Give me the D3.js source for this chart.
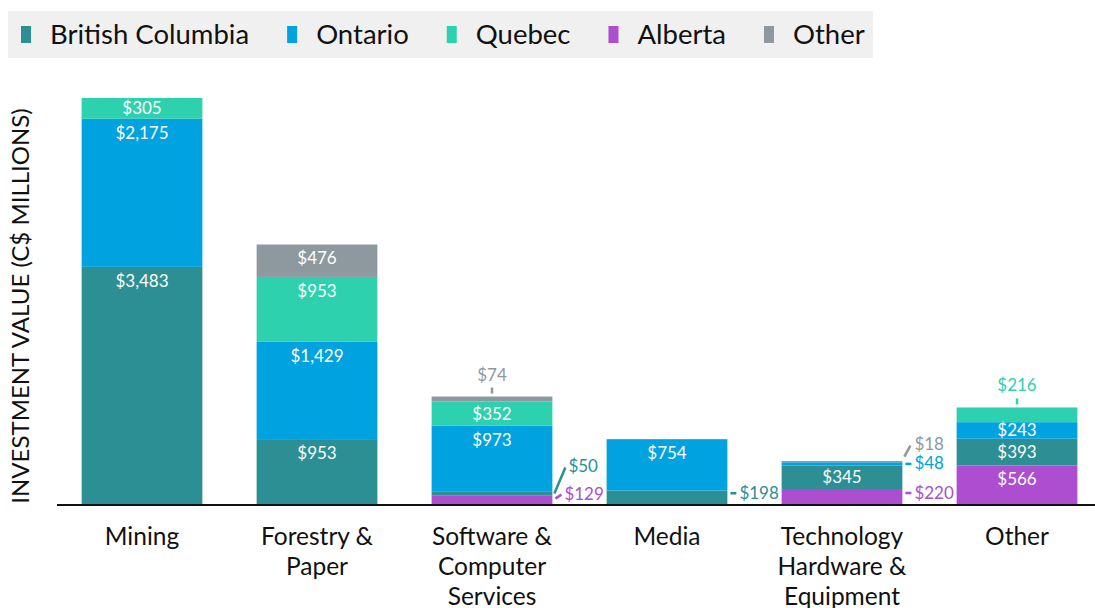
<!DOCTYPE html>
<html>
<head>
<meta charset="utf-8">
<script src="https://cdn.jsdelivr.net/npm/d3@7"></script>
<style>
  body { margin: 0; background: #fff; }
  text { font-family: Lato, "Open Sans", sans-serif; }
</style>
</head>
<body>
<div id="container"></div>
<script>
// chart data
const categories = ["Mining", "Forestry & Paper", "Software & Computer Services", "Media", "Technology Hardware & Equipment", "Other"];
const categoryLines = [["Mining"], ["Forestry &", "Paper"], ["Software &", "Computer", "Services"], ["Media"], ["Technology", "Hardware &", "Equipment"], ["Other"]];

const alberta = [0, 0, 129, 0, 220, 566];
const britishColumbia = [3483, 953, 50, 198, 345, 393];
const ontario = [2175, 1429, 973, 754, 48, 243];
const quebec = [305, 953, 352, 0, 0, 216];
const otherProv = [0, 476, 74, 0, 18, 0];

const legendOrder = ["British Columbia", "Ontario", "Quebec", "Alberta", "Other"];
const stackOrder = ["Alberta", "British Columbia", "Ontario", "Quebec", "Other"];

const colors = {
  "British Columbia": "#2b8f94",
  "Ontario": "#00a3e0",
  "Quebec": "#2dd1ae",
  "Alberta": "#ac4ecf",
  "Other": "#8d999e"
};

// small segments labelled outside the bar
// kind: "above" = over the bar top, "right" = beside the bar
const callouts = [
  {cat: 2, key: "Other", kind: "above"},
  {cat: 5, key: "Quebec", kind: "above"},
  {cat: 2, key: "British Columbia", kind: "right", labelDy: -27, lx1: 2, ly1: 0, lx2: 13, ly2: -26},
  {cat: 2, key: "Alberta", kind: "right", labelDy: -6, lx1: 3, ly1: -1, lx2: 9, ly2: -5},
  {cat: 3, key: "British Columbia", kind: "right", labelDy: -4, lx1: 3, ly1: -4, lx2: 9, ly2: -4},
  {cat: 4, key: "Alberta", kind: "right", labelDy: -3.5, lx1: 3, ly1: -3.5, lx2: 9, ly2: -3.5},
  {cat: 4, key: "Ontario", kind: "right", labelDy: -1, lx1: 3, ly1: 0, lx2: 9, ly2: 0},
  {cat: 4, key: "Other", kind: "right", labelDy: -18, lx1: 2, ly1: -5, lx2: 8, ly2: -16}
];

const width = 1095, height = 608;

const table = categories.map((c, i) => ({
  category: c,
  "Alberta": alberta[i],
  "British Columbia": britishColumbia[i],
  "Ontario": ontario[i],
  "Quebec": quebec[i],
  "Other": otherProv[i]
}));

const svg = d3.select("#container")
  .append("svg")
    .attr("width", width)
    .attr("height", height);

const x = d3.scaleBand()
  .domain(categories)
  .range([54.5, 1104.5])
  .paddingInner(0.31)
  .paddingOuter(0.155);

const y = d3.scaleLinear()
  .domain([0, 5963])
  .range([504, 98]);

const series = d3.stack().keys(stackOrder)(table);
const fmt = d3.format("$,");

// bars
const layers = svg.selectAll(".layer").data(series).enter()
  .append("g")
    .attr("class", "layer")
    .attr("fill", d => colors[d.key]);

layers.selectAll("rect").data(d => d.filter(s => s[1] > s[0])).enter()
  .append("rect")
    .attr("x", d => x(d.data.category))
    .attr("width", x.bandwidth())
    .attr("y", d => y(d[1]))
    .attr("height", d => y(d[0]) - y(d[1]));

// labels inside bars
function isCallout(cat, key) {
  return callouts.some(c => c.cat === cat && c.key === key);
}
series.forEach(s => {
  s.forEach((d, i) => {
    const v = d[1] - d[0];
    if (v <= 0 || isCallout(i, s.key)) return;
    const top = y(d[1]);
    const h = y(d[0]) - top;
    svg.append("text")
      .attr("x", x(d.data.category) + x.bandwidth() / 2)
      .attr("y", top + Math.min(h / 2, 14))
      .attr("dy", "0.35em")
      .attr("text-anchor", "middle")
      .attr("fill", "#fff")
      .attr("font-size", 17)
      .text(fmt(v));
  });
});

// callout labels
callouts.forEach(c => {
  const s = series.find(s => s.key === c.key);
  const d = s[c.cat];
  const v = d[1] - d[0];
  const col = colors[c.key];
  const cx = x(categories[c.cat]) + x.bandwidth() / 2;
  if (c.kind === "above") {
    const top = y(d[1]);
    svg.append("line")
      .attr("x1", cx).attr("x2", cx)
      .attr("y1", top - 9).attr("y2", top - 3)
      .attr("stroke", col).attr("stroke-width", 2.5);
    svg.append("text")
      .attr("x", cx)
      .attr("y", top - 22)
      .attr("dy", "0.35em")
      .attr("text-anchor", "middle")
      .attr("fill", col)
      .attr("font-size", 17)
      .text(fmt(v));
  } else {
    const right = x(categories[c.cat]) + x.bandwidth();
    const mid = (y(d[0]) + y(d[1])) / 2;
    svg.append("line")
      .attr("x1", right + c.lx1).attr("y1", mid + c.ly1)
      .attr("x2", right + c.lx2).attr("y2", mid + c.ly2)
      .attr("stroke", col).attr("stroke-width", 2.5);
    svg.append("text")
      .attr("x", right + Math.max(c.lx2, 9) + 3)
      .attr("y", mid + c.labelDy)
      .attr("dy", "0.35em")
      .attr("fill", col)
      .attr("font-size", 17)
      .text(fmt(v));
  }
});

// baseline
svg.append("line")
  .attr("x1", 57).attr("x2", width)
  .attr("y1", y(0) + 1).attr("y2", y(0) + 1)
  .attr("stroke", "#111")
  .attr("stroke-width", 2);

// category labels
const catLabels = svg.selectAll(".cat").data(categories).enter()
  .append("text")
    .attr("class", "cat")
    .attr("text-anchor", "middle")
    .attr("font-size", 24.5)
    .attr("fill", "#111");
catLabels.each(function(d, i) {
  d3.select(this).selectAll("tspan").data(categoryLines[i]).enter()
    .append("tspan")
      .attr("x", x(d) + x.bandwidth() / 2)
      .attr("y", (t, j) => 545 + j * 30)
      .text(t => t);
});

// y axis title
svg.append("text")
  .attr("transform", "translate(29,306) rotate(-90)")
  .attr("text-anchor", "middle")
  .attr("font-size", 24)
  .attr("fill", "#111")
  .text("INVESTMENT VALUE (C$ MILLIONS)");

// legend
const legend = svg.append("g");
legend.append("rect")
  .attr("x", 8).attr("y", 11)
  .attr("width", 865).attr("height", 47)
  .attr("fill", "#f0f0f0");

let lx = 21;
legendOrder.forEach(k => {
  legend.append("rect")
    .attr("x", lx).attr("y", 26)
    .attr("width", 10).attr("height", 17)
    .attr("fill", colors[k]);
  const t = legend.append("text")
    .attr("x", lx + 29)
    .attr("y", 44)
    .attr("font-size", 27.5)
    .attr("fill", "#111")
    .text(k);
  lx = lx + 29 + t.node().getComputedTextLength() + 38;
});
</script>
</body>
</html>
